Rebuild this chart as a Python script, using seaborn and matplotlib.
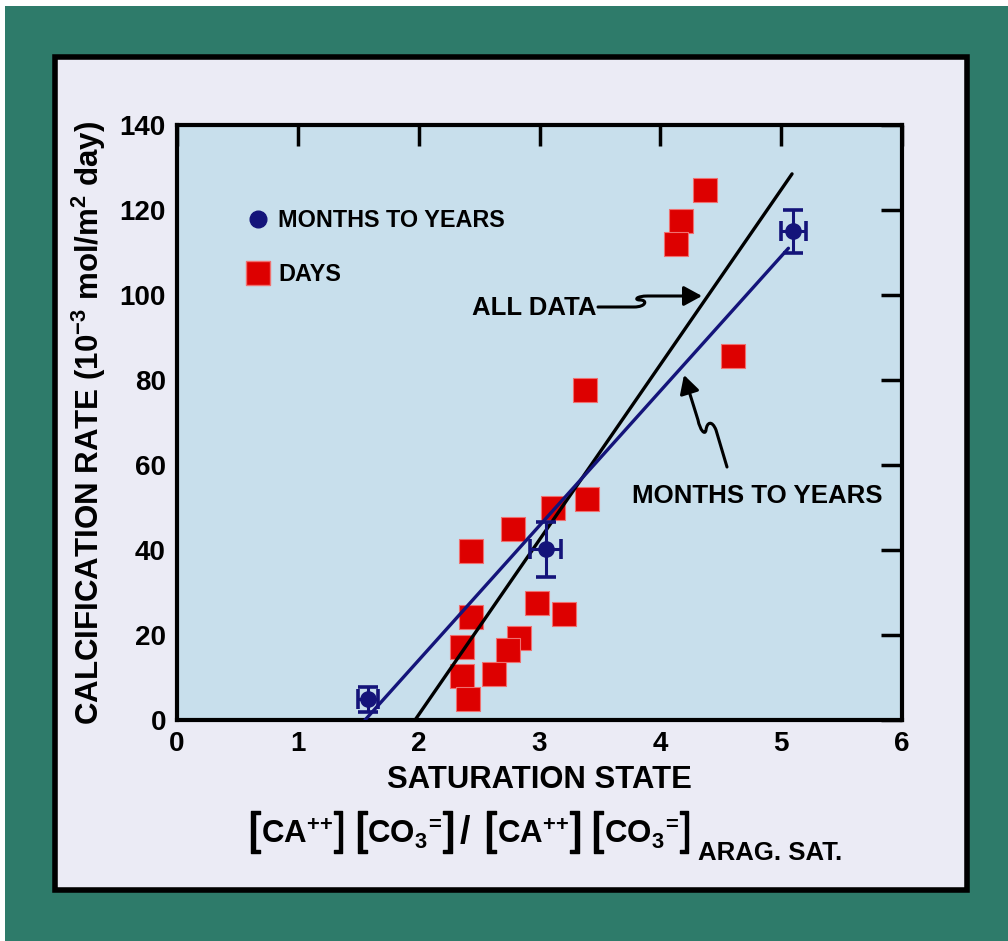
import matplotlib
matplotlib.use("Agg")
import matplotlib.pyplot as plt
import matplotlib.patheffects as pe
import seaborn as sns
from matplotlib.lines import Line2D
from matplotlib.patches import Rectangle, FancyArrowPatch
from matplotlib.path import Path
from matplotlib.offsetbox import TextArea, HPacker, DrawingArea, AnchoredOffsetbox

# values
# days experiments (red squares)
days_sat = [4.37, 4.17, 4.13, 4.60, 3.38, 3.39, 3.11, 2.78, 2.43, 2.98,
            3.20, 2.43, 2.83, 2.74, 2.36, 2.62, 2.36, 2.41]
days_rate = [124.7, 117.4, 112.0, 85.6, 77.6, 52.0, 49.9, 44.9, 39.8, 27.5,
             24.9, 24.2, 19.3, 16.5, 17.2, 10.8, 10.4, 4.9]

# months to years experiments (navy circles with error bars)
months_sat = [1.58, 3.05, 5.10]
months_rate = [4.9, 40.2, 115.0]
months_sat_err = [0.08, 0.13, 0.105]
months_rate_err = [2.9, 6.5, 5.0]

# regression lines (end points)
fit_all_sat = [1.97, 5.09]
fit_all_rate = [0.0, 128.5]
fit_months_sat = [1.556, 5.06]
fit_months_rate = [0.0, 111.0]

x_ticks = [0, 1, 2, 3, 4, 5, 6]
y_ticks = [0, 20, 40, 60, 80, 100, 120, 140]

TEAL = "#2e7b6a"
PANEL = "#ebebf5"
AXBG = "#c8dfec"
RED = "#dd0000"
NAVY = "#14147a"

sns.set_style("white")
plt.rcParams["font.family"] = ["Liberation Sans", "DejaVu Sans"]
plt.rcParams["font.weight"] = "bold"
plt.rcParams["text.color"] = "black"
plt.rcParams["axes.labelcolor"] = "black"
plt.rcParams["xtick.color"] = "black"
plt.rcParams["ytick.color"] = "black"
plt.rcParams["mathtext.fontset"] = "custom"
plt.rcParams["mathtext.rm"] = "Liberation Sans:bold"
plt.rcParams["mathtext.bf"] = "Liberation Sans:bold"
plt.rcParams["mathtext.default"] = "bf"

W, H = 1008, 941
fig = plt.figure(figsize=(W / 100, H / 100), dpi=100, facecolor="white")
fig.patches.append(Rectangle((5 / W, 0), 1 - 5 / W, 1 - 6 / H, transform=fig.transFigure,
                             facecolor=TEAL, edgecolor="none", zorder=-2))
fig.patches.append(Rectangle((54.5 / W, 1 - 890 / H), 912.5 / W, 833 / H, transform=fig.transFigure,
                             facecolor=PANEL, edgecolor="black", lw=4, zorder=-1))

ax = fig.add_axes([177 / W, 1 - 720 / H, 725 / W, 595 / H])
ax.set_facecolor(AXBG)

sns.scatterplot(x=days_sat, y=days_rate, marker="s", s=290, color=RED,
                edgecolor="#f07070", linewidth=0.8, ax=ax, zorder=3)
sns.lineplot(x=fit_all_sat, y=fit_all_rate, color="black", lw=2.4, ax=ax, zorder=4)
sns.lineplot(x=fit_months_sat, y=fit_months_rate, color=NAVY, lw=2.4, ax=ax, zorder=4)
ax.errorbar(months_sat, months_rate, xerr=months_sat_err, yerr=months_rate_err,
            fmt="o", ms=11, color=NAVY, elinewidth=2.2, capsize=7, capthick=2.6, zorder=5)

ax.set_xlim(0, 6)
ax.set_ylim(0, 140)
ax.set_xticks(x_ticks)
ax.set_yticks(y_ticks)
for s in ax.spines.values():
    s.set_linewidth(3)
    s.set_color("black")
ax.tick_params(direction="in", length=15, width=2.5, labelsize=20, pad=8, color="black",
               labelcolor="black", top=True, right=True)
ax.set_xlabel("SATURATION STATE", fontsize=22.3, fontweight="bold", labelpad=6)
ax.set_ylabel(r"CALCIFICATION RATE (10$^{-3}$ mol/m$^{2}$ day)", fontsize=22.5,
              fontweight="bold", labelpad=8)

handles = [Line2D([], [], marker="o", ls="none", color=NAVY, ms=12),
           Line2D([], [], marker="s", ls="none", color=RED, mec="#f07070", ms=17.5)]
ax.legend(handles, ["MONTHS TO YEARS", "DAYS"], loc="upper left", bbox_to_anchor=(0.096, 0.858),
          frameon=False, prop={"size": 16.8, "weight": "bold"}, handlelength=1.0,
          handletextpad=0.35, labelspacing=1.3, borderpad=0, borderaxespad=0)

# annotations with wiggly arrows
def px(x, y):
    return ((x - 177) / 725 * 6, (720 - y) / 595 * 140)

ax.text(*px(534, 308), "ALL DATA", ha="center", va="center", fontsize=18.5, fontweight="bold")
ax.text(*px(757, 496), "MONTHS TO YEARS", ha="center", va="center", fontsize=18.6, fontweight="bold")

verts = [(598, 307), (634, 307), (646, 307), (648, 300), (640, 300),
         (634, 300), (636, 296), (648, 296), (702, 296)]
codes = [Path.MOVETO, Path.LINETO, Path.CURVE4, Path.CURVE4, Path.CURVE4,
         Path.CURVE4, Path.CURVE4, Path.CURVE4, Path.LINETO]
ax.add_patch(FancyArrowPatch(path=Path([px(*v) for v in verts], codes),
                             arrowstyle="-|>,head_length=0.55,head_width=0.3",
                             mutation_scale=20, lw=2.2, color="black", zorder=6))

verts = [(727, 467), (716, 430), (712, 420), (707, 422), (706, 430),
         (705, 436), (700, 430), (698, 420), (684, 375)]
ax.add_patch(FancyArrowPatch(path=Path([px(*v) for v in verts], codes),
                             arrowstyle="-|>,head_length=0.55,head_width=0.3",
                             mutation_scale=20, lw=2.2, color="black", zorder=6))

# [CA++] [CO3=] / [CA++] [CO3=]  with tall brackets
def txt(s, size, weight="bold", stroke=0):
    props = {"fontsize": size, "fontweight": weight, "color": "black"}
    if stroke:
        props["path_effects"] = [pe.withStroke(linewidth=stroke, foreground="black")]
    return TextArea(s, textprops=props)

def group(inner):
    return HPacker(children=[txt("[", 32, "normal", 1.0), txt(inner, 22.5),
                             txt("]", 32, "normal", 1.0)],
                   align="baseline", pad=0, sep=0.3)

def gap(w):
    return DrawingArea(w, 1)

ca = r"CA$^{{+}{+}}$"
co3 = r"CO$_{3}{}^{\!=}$"
pack = HPacker(children=[group(ca), gap(6.5), group(co3), gap(3), txt("/", 27), gap(10.5),
                         group(ca), gap(6.5), group(co3)],
               align="baseline", pad=0, sep=0)
fig.add_artist(AnchoredOffsetbox(loc="center left", child=pack, pad=0, borderpad=0,
                                 frameon=False, bbox_to_anchor=(248 / W, 1 - 832 / H),
                                 bbox_transform=fig.transFigure))
fig.text(698 / W, 1 - 853 / H, "ARAG. SAT.", ha="left", va="center", fontsize=18.5,
         fontweight="bold")

fig.savefig("out.png", dpi=100, facecolor=fig.get_facecolor())
